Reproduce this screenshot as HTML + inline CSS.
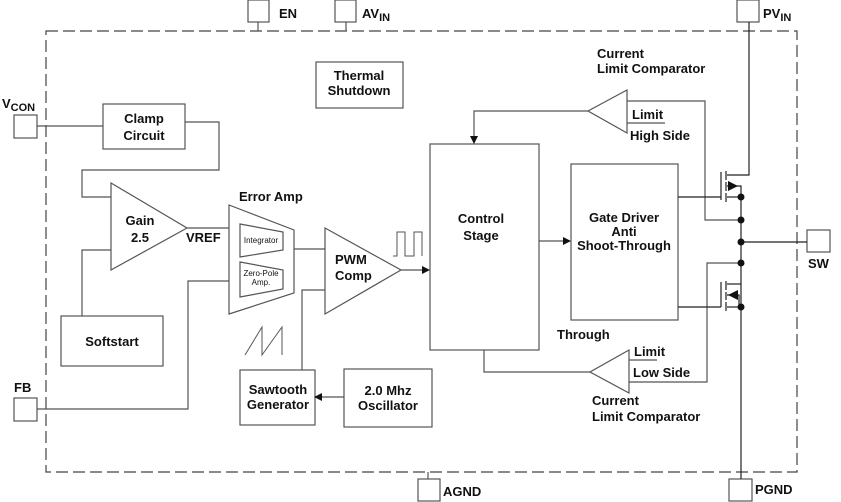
<!DOCTYPE html>
<html><head><meta charset="utf-8"><style>
html,body{margin:0;padding:0;background:#fff;}
svg{display:block;}
text{font-family:"Liberation Sans",Arial,sans-serif;font-weight:bold;font-size:13px;fill:#111;}
.s{font-weight:normal;font-size:8px;}
</style></head><body>
<svg width="841" height="502" viewBox="0 0 841 502" xmlns="http://www.w3.org/2000/svg">
<g fill="none" stroke="#555" stroke-width="1.2">
<!-- dashed border -->
<rect x="46" y="31" width="751" height="441" stroke-dasharray="12,5" stroke="#444"/>
<!-- pins -->
<rect x="248" y="0" width="21" height="22"/><line x1="258" y1="22" x2="258" y2="31"/>
<rect x="335" y="0" width="21" height="22"/><line x1="346" y1="22" x2="346" y2="31"/>
<rect x="737" y="0" width="22" height="22"/>
<rect x="14" y="115" width="23" height="23"/>
<rect x="14" y="398" width="23" height="23"/>
<rect x="807" y="230" width="23" height="22"/>
<rect x="418" y="479" width="22" height="22"/><line x1="428" y1="472" x2="428" y2="479"/>
<rect x="729" y="479" width="23" height="22"/>
<!-- boxes -->
<rect x="316" y="62" width="87" height="46"/>
<rect x="103" y="104" width="82" height="45"/>
<rect x="61" y="316" width="102" height="50"/>
<rect x="240" y="370" width="75" height="55"/>
<rect x="344" y="369" width="88" height="58"/>
<rect x="430" y="144" width="109" height="206"/>
<rect x="571" y="164" width="107" height="156"/>
<!-- triangles -->
<polygon points="111,183 187,228 111,270"/>
<polygon points="229,205 294,230 294,293 229,314"/>
<polygon points="240,224 283,232 283,250 240,257"/>
<polygon points="240,262 283,270 283,289 240,297"/>
<polygon points="325,228 401,270 325,314"/>
<polygon points="627,90 588,111 627,133"/>
<polygon points="629,350 590,372 629,393"/>
<!-- wires -->
<line x1="37" y1="126" x2="103" y2="126"/>
<polyline points="185,122 219,122 219,170 82,170 82,197 111,197"/>
<polyline points="82,316 82,250 111,250"/>
<line x1="187" y1="228" x2="229" y2="228"/>
<polyline points="37,409 188,409 188,281 229,281"/>
<line x1="294" y1="249" x2="325" y2="249"/>
<polyline points="302,370 302,290 325,290"/>
<line x1="401" y1="270" x2="422" y2="270"/>
<line x1="344" y1="397" x2="322" y2="397"/>
<line x1="539" y1="241" x2="564" y2="241"/>
<polyline points="588,111 474,111 474,137"/>
<polyline points="627,101 705,101 705,220 741,220"/>
<polyline points="590,372 484,372 484,350"/>
<polyline points="629,382 707,382 707,263 741,263"/>
<line x1="627" y1="123" x2="665" y2="123"/>
<line x1="629" y1="360" x2="657" y2="360"/>
<!-- pulse and saw -->
<polyline points="393,256 397,256 397,232 405,232 405,256 414,256 414,232 422,232 422,256" stroke-width="1"/>
<polyline points="245,355 262,327 262,355 282,327 282,355" stroke-width="1"/>
<!-- power stage -->
<g stroke="#222">
<polyline points="749,22 749,175 727,175"/>
<line x1="678" y1="197" x2="721" y2="197"/>
<line x1="721" y1="172" x2="721" y2="200"/>
<line x1="726" y1="171" x2="726" y2="180"/><line x1="726" y1="182" x2="726" y2="191"/><line x1="726" y1="193" x2="726" y2="202"/>
<polyline points="727,186 741,186 741,307"/>
<line x1="727" y1="197" x2="741" y2="197"/>
<line x1="741" y1="242" x2="807" y2="242"/>
<line x1="678" y1="307" x2="721" y2="307"/>
<line x1="721" y1="282" x2="721" y2="307"/>
<line x1="726" y1="281" x2="726" y2="290"/><line x1="726" y1="292" x2="726" y2="300"/><line x1="726" y1="302" x2="726" y2="311"/>
<polyline points="727,284 741,284"/>
<polyline points="727,295 739,295 739,307"/>
<line x1="727" y1="307" x2="741" y2="307"/>
<line x1="741" y1="307" x2="741" y2="479"/>
</g>
</g>
<g fill="#111" stroke="none">
<polygon points="728,181 738,186 728,191"/>
<polygon points="738,290 728,295 738,300"/>
<circle cx="741" cy="197" r="3.5"/><circle cx="741" cy="220" r="3.5"/><circle cx="741" cy="242" r="3.5"/><circle cx="741" cy="263" r="3.5"/><circle cx="741" cy="307" r="3.5"/>
<polygon points="422,266 430,270 422,274"/>
<polygon points="322,393 314,397 322,401"/>
<polygon points="563,237 571,241 563,245"/>
<polygon points="470,136 478,136 474,144"/>
</g>
<text x="279" y="18">EN</text>
<text x="362" y="18">AV<tspan font-size="11" dy="3">IN</tspan></text>
<text x="763" y="18">PV<tspan font-size="11" dy="3">IN</tspan></text>
<text x="2" y="108">V<tspan font-size="11" dy="3">CON</tspan></text>
<text x="14" y="392">FB</text>
<text x="808" y="268">SW</text>
<text x="443" y="496">AGND</text>
<text x="755" y="494">PGND</text>
<text x="359" y="80" text-anchor="middle">Thermal</text>
<text x="359" y="95" text-anchor="middle">Shutdown</text>
<text x="144" y="123" text-anchor="middle">Clamp</text>
<text x="144" y="140" text-anchor="middle">Circuit</text>
<text x="140" y="225" text-anchor="middle">Gain</text>
<text x="140" y="242" text-anchor="middle">2.5</text>
<text x="186" y="242">VREF</text>
<text x="239" y="201">Error Amp</text>
<text class="s" x="261" y="243" text-anchor="middle">Integrator</text>
<text class="s" x="261" y="276" text-anchor="middle">Zero-Pole</text>
<text class="s" x="261" y="285" text-anchor="middle">Amp.</text>
<text x="335" y="264">PWM</text>
<text x="335" y="280">Comp</text>
<text x="112" y="346" text-anchor="middle">Softstart</text>
<text x="278" y="394" text-anchor="middle">Sawtooth</text>
<text x="278" y="409" text-anchor="middle">Generator</text>
<text x="388" y="395" text-anchor="middle">2.0 Mhz</text>
<text x="388" y="410" text-anchor="middle">Oscillator</text>
<text x="481" y="223" text-anchor="middle">Control</text>
<text x="481" y="240" text-anchor="middle">Stage</text>
<text x="624" y="222" text-anchor="middle">Gate Driver</text>
<text x="624" y="236" text-anchor="middle">Anti</text>
<text x="624" y="250" text-anchor="middle">Shoot-Through</text>
<text x="557" y="339">Through</text>
<text x="597" y="58">Current</text>
<text x="597" y="73">Limit Comparator</text>
<text x="632" y="119">Limit</text>
<text x="630" y="140">High Side</text>
<text x="634" y="356">Limit</text>
<text x="633" y="377">Low Side</text>
<text x="592" y="405">Current</text>
<text x="592" y="421">Limit Comparator</text>
</svg>
</body></html>
